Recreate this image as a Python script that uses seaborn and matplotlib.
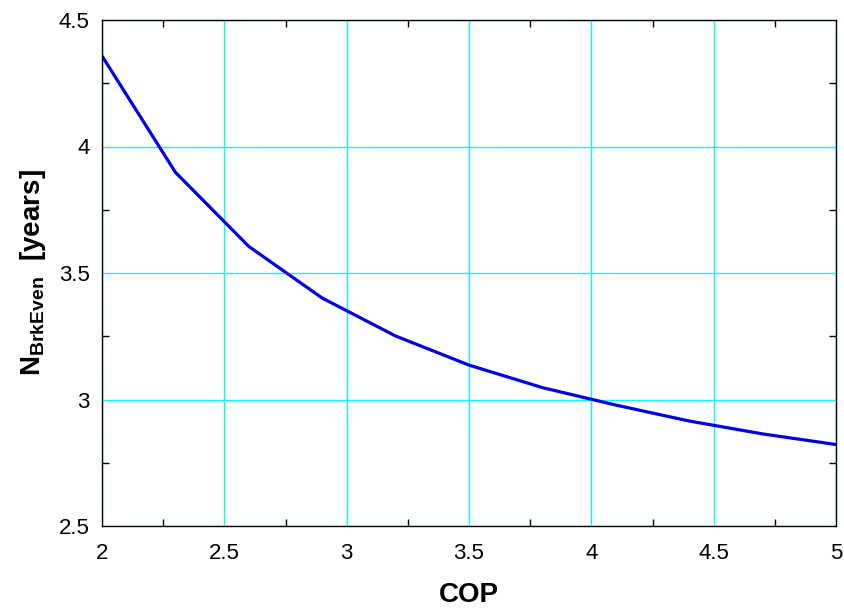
import matplotlib
matplotlib.use("Agg")
import matplotlib.pyplot as plt
import seaborn as sns
import pandas as pd
from matplotlib.ticker import FixedLocator, FormatStrFormatter, MultipleLocator

# data
cop = [2.0, 2.3, 2.6, 2.9, 3.2, 3.5, 3.8, 4.1, 4.4, 4.7, 5.0]
n_brk_even = [4.358, 3.898, 3.605, 3.401, 3.251, 3.136, 3.047, 2.978, 2.915, 2.864, 2.822]

x_ticks = [2, 2.5, 3, 3.5, 4, 4.5, 5]
y_ticks = [2.5, 3, 3.5, 4, 4.5]

df = pd.DataFrame({"COP": cop, "N": n_brk_even})

sns.set_style("white")
plt.rcParams["font.family"] = ["Liberation Sans", "DejaVu Sans"]
plt.rcParams["mathtext.fontset"] = "custom"
plt.rcParams["mathtext.rm"] = "Liberation Sans"
plt.rcParams["mathtext.bf"] = "Liberation Sans:bold"
plt.rcParams["text.color"] = "black"
plt.rcParams["axes.labelcolor"] = "black"

fig = plt.figure(figsize=(8.45, 6.1), dpi=100)
ax = fig.add_axes([102 / 845, 1 - 526 / 610, 734 / 845, 506 / 610])

sns.lineplot(data=df, x="COP", y="N", ax=ax, color="#0000e6", linewidth=2.3)

ax.set_xlim(2, 5)
ax.set_ylim(2.5, 4.5)
ax.xaxis.set_major_locator(FixedLocator(x_ticks))
ax.yaxis.set_major_locator(FixedLocator(y_ticks))
ax.xaxis.set_major_formatter(FormatStrFormatter("%g"))
ax.yaxis.set_major_formatter(FormatStrFormatter("%g"))
ax.xaxis.set_minor_locator(MultipleLocator(0.25))
ax.yaxis.set_minor_locator(MultipleLocator(0.25))

ax.grid(True, which="major", color="#00ffff", linewidth=1.0)
ax.tick_params(which="both", direction="in", top=True, right=True,
               bottom=True, left=True, labelsize=16, colors="black")
ax.tick_params(which="major", length=0)
ax.tick_params(axis="x", which="major", pad=12)
ax.tick_params(axis="y", which="major", pad=9)
ax.tick_params(which="minor", length=5, width=1)
for s in ax.spines.values():
    s.set_color("black")
    s.set_linewidth(1.0)
    s.set_zorder(5)

ax.set_xlabel("COP", fontsize=20, fontweight="bold", labelpad=13)
ax.set_ylabel(r"$\mathbf{N_{BrkEven}}$  [years]", fontsize=20,
              fontweight="bold", labelpad=8)

fig.savefig("out.png", dpi=100)
